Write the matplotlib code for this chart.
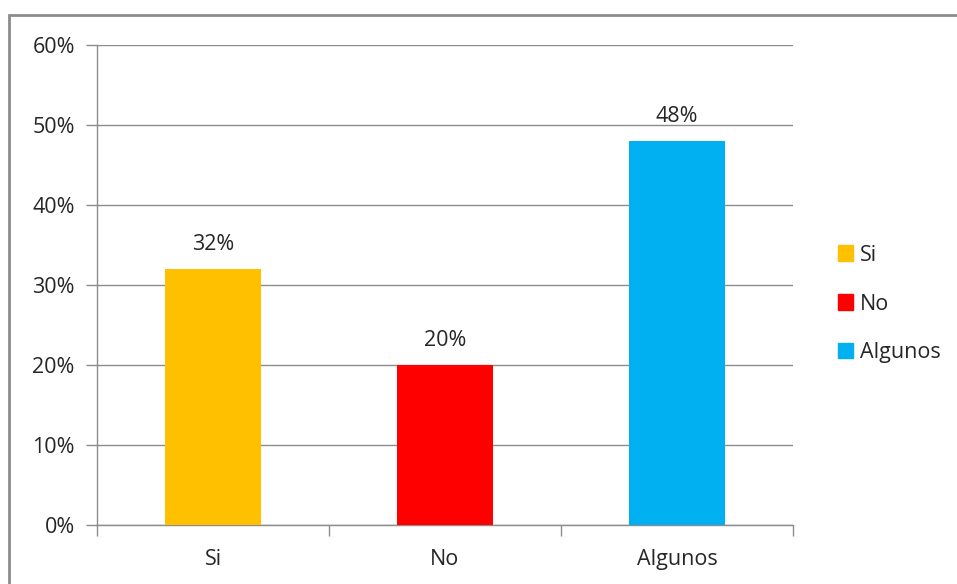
import matplotlib.pyplot as plt
from matplotlib.patches import Rectangle
from matplotlib.ticker import FuncFormatter, MultipleLocator

plt.rcParams['font.family'] = ['Open Sans', 'DejaVu Sans']

categories = ['Si', 'No', 'Algunos']
values = [32, 20, 48]
colors = ['#FFC000', '#FF0000', '#00B0F0']

FS = 15.5
TXT = '#262626'

fig = plt.figure(figsize=(9.57, 5.84), dpi=100)

# marco exterior del gráfico
fig.patches.append(Rectangle((9 / 957, -0.1), 1.2, (584 - 15) / 584 + 0.1,
                             transform=fig.transFigure, fill=False,
                             edgecolor='#8c8c8c', linewidth=2))

ax = fig.add_axes([97 / 957, 1 - 525 / 584, (793 - 97) / 957, (525 - 45) / 584])

x = range(len(categories))
bars = ax.bar(x, values, width=0.41, color=colors, zorder=3)

for i, v in enumerate(values):
    ax.annotate(f'{v}%', (i, v), xytext=(0, 10), textcoords='offset points',
                ha='center', va='bottom', fontsize=FS, color=TXT)

ax.set_xlim(-0.5, 2.5)
ax.set_ylim(0, 60)
ax.yaxis.set_major_locator(MultipleLocator(10))
ax.yaxis.set_major_formatter(FuncFormatter(lambda v, p: f'{v:.0f}%'))
ax.grid(axis='y', color='#8c8c8c', linewidth=1, zorder=0)

ax.set_xticks([-0.5, 0.5, 1.5, 2.5])
ax.set_xticklabels([])
ax.set_xticks(list(x), minor=True)
ax.set_xticklabels(categories, minor=True)
ax.tick_params(axis='x', which='major', length=8, color='#8c8c8c', width=1)
ax.tick_params(axis='x', which='minor', length=0, pad=17, labelsize=FS, labelcolor=TXT)
ax.tick_params(axis='y', length=8, color='#8c8c8c', width=1, pad=8,
               labelsize=FS, labelcolor=TXT)

for s in ['top', 'right']:
    ax.spines[s].set_visible(False)
for s in ['left', 'bottom']:
    ax.spines[s].set_color('#8c8c8c')
    ax.spines[s].set_linewidth(1)

handles = [Rectangle((0, 0), 1, 1, color=c) for c in colors]
fig.legend(handles, categories, loc='center left', bbox_to_anchor=(819 / 957, 1 - 304 / 584),
           frameon=False, fontsize=FS, handlelength=0.7, handleheight=0.7,
           handletextpad=0.3, labelspacing=1.3, labelcolor=TXT)

fig.savefig('out.png', dpi=100)
